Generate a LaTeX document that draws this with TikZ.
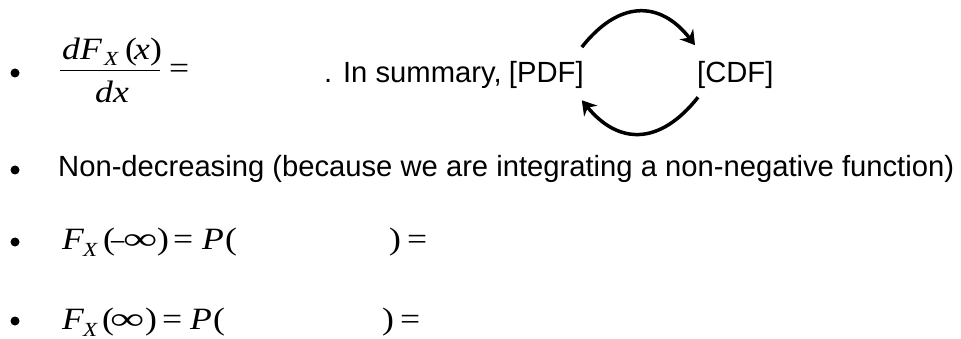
\documentclass[tikz,border=0pt]{standalone}
\usepackage{graphicx}
\usepackage{fontspec}
\setmainfont{Liberation Sans}
\newfontfamily\tnr{Liberation Serif}
\usetikzlibrary{arrows.meta,calc}
\newcommand{\hx}[1]{\scalebox{1.15}[1]{#1}}
\newcommand{\wideinf}{\scalebox{1.55}[1]{∞}}
\newcommand{\shortminus}{\scalebox{0.85}[1]{–}}
\begin{document}
\begin{tikzpicture}[x=1pt,y=-1pt,
  txt/.style={font=\fontsize{29.2}{34}\selectfont, inner sep=0pt, anchor=base west},
  mi/.style={font=\tnr\itshape\fontsize{31}{34}\selectfont, inner sep=0pt, anchor=base west},
  mr/.style={font=\tnr\fontsize{31}{34}\selectfont, inner sep=0pt, anchor=base west},
  msub/.style={font=\tnr\itshape\fontsize{20}{22}\selectfont, inner sep=0pt, anchor=base west},
  dot/.style={circle, fill=black, inner sep=0pt, minimum size=9pt},
  cyc/.style={line width=3.5pt, -{Stealth[length=14pt,width=17pt]}},
  fracrule/.style={line width=1.4pt}]
\useasboundingbox (0,0) rectangle (961,339);
% bullets
\node[dot] (b1) at (15,73) {};
\node[dot] (b2) at (15,170) {};
\node[dot] (b3) at (15,242) {};
\node[dot] (b4) at (15,321) {};
% line 1: fraction
\node[mi] (n1) at (62,60) {\hx{dF}};
\node[msub] (n2) at (104,66) {\hx{X}};
\node[mr] (n3) at (125,60) {\hx{(}};
\node[mi] (n4) at (134,60) {\hx{x}};
\node[mr] (n5) at (150,60) {\hx{)}};
\draw[fracrule] (60,70.5) -- (160,70.5);
\node[mi] (d1) at (95,103) {\hx{dx}};
\node[mr] (eq1) at (169,79) {\hx{=}};
\node[txt] (sum) at (324,83) {. In summary,};
\node[txt] (pdf) at ($(sum.base east)+(7,0)$) {[PDF]};
\node[txt] (cdf) at (697,83) {[CDF]};
\draw[cyc] ($(pdf.north east)+(-2,-14.5)$) .. controls +(37,-47) and +(-35,-45) .. ($(cdf.north west)+(-2,-16.5)$);
\draw[cyc] ($(cdf.south west)+(1,8)$) .. controls +(-38,48) and +(37,45) .. ($(pdf.south east)+(-2,11)$);
% line 2
\node[txt] (nd) at (58,177) {Non-decreasing (because we are integrating a non-negative function)};
% line 3
\node[mi] (f3) at (62,249) {\hx{F}};
\node[msub] (x3) at (83,256) {\hx{X}};
\node[mr] (o3) at (103,249) {\hx{(}};
\node[mr] (m3) at (111,249) {\shortminus};
\node[mr] (i3) at (123,249) {\wideinf};
\node[mr] (c3) at (157,249) {\hx{)}};
\node[mr] (e3) at (173,249) {\hx{=}};
\node[mi] (p3) at (202,249) {\hx{P}};
\node[mr] (q3) at (225,249) {\hx{(}};
\node[mr] (r3) at (389,249) {\hx{)}};
\node[mr] (s3) at (407,249) {\hx{=}};
% line 4
\node[mi] (f4) at (62,329) {\hx{F}};
\node[msub] (x4) at (83,336) {\hx{X}};
\node[mr] (o4) at (102,329) {\hx{(}};
\node[mr] (i4) at (110,329) {\wideinf};
\node[mr] (c4) at (145,329) {\hx{)}};
\node[mr] (e4) at (162,329) {\hx{=}};
\node[mi] (p4) at (190,329) {\hx{P}};
\node[mr] (q4) at (213,329) {\hx{(}};
\node[mr] (r4) at (382,329) {\hx{)}};
\node[mr] (s4) at (400,329) {\hx{=}};
\end{tikzpicture}
\end{document}
